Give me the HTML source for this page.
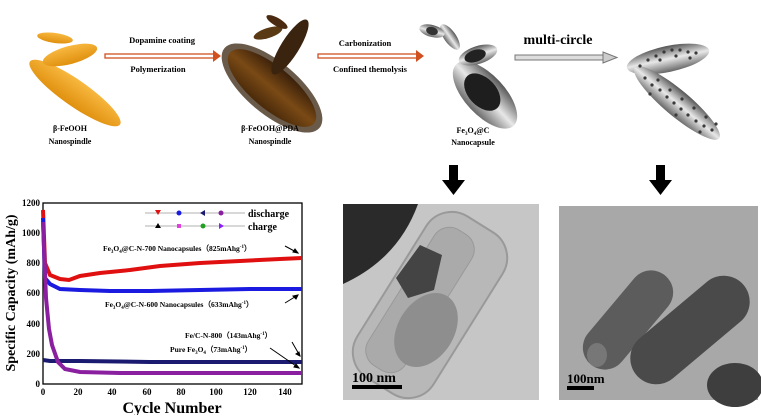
<!DOCTYPE html>
<html><head><meta charset="utf-8"><style>
body{margin:0;background:#fff;width:761px;height:415px;overflow:hidden}
text{font-family:"Liberation Serif",serif;font-weight:bold}
</style></head><body>
<svg width="761" height="415" viewBox="0 0 761 415" xmlns="http://www.w3.org/2000/svg">
<defs>
<linearGradient id="or" x1="0" y1="0" x2="0" y2="1"><stop offset="0" stop-color="#f8b840"/><stop offset="1" stop-color="#e0900e"/></linearGradient>
<linearGradient id="br" x1="0" y1="0" x2="0" y2="1"><stop offset="0" stop-color="#3a200a"/><stop offset="0.5" stop-color="#7a4a15"/><stop offset="1" stop-color="#4a2a0a"/></linearGradient>
<linearGradient id="gr" x1="0" y1="0" x2="0" y2="1"><stop offset="0" stop-color="#555"/><stop offset="0.5" stop-color="#e8e8e8"/><stop offset="1" stop-color="#666"/></linearGradient>
</defs>
<g transform="translate(75,93) rotate(35)"><ellipse rx="55" ry="13" fill="url(#or)"/></g>
<g transform="translate(70,55) rotate(-15)"><ellipse rx="28" ry="9" fill="url(#or)"/></g>
<g transform="translate(55,38) rotate(8)"><ellipse rx="18" ry="5" fill="url(#or)"/></g>
<text x="70" y="131" font-size="8" text-anchor="middle">β-FeOOH</text>
<text x="70" y="144" font-size="8" text-anchor="middle">Nanospindle</text>
<rect x="105" y="54" width="110" height="4" fill="#fff" stroke="#d05020" stroke-width="1.3"/>
<path d="M213,50 L221,56 L213,62Z" fill="#d05020"/>
<text x="162" y="43" font-size="8.5" text-anchor="middle">Dopamine coating</text>
<text x="158" y="72" font-size="8.5" text-anchor="middle">Polymerization</text>
<g transform="translate(272,88) rotate(40)"><ellipse rx="62" ry="26" fill="#6a5a4a"/><ellipse rx="55" ry="21" fill="url(#br)"/></g>
<g transform="translate(290,47) rotate(-58)"><ellipse rx="32" ry="9" fill="#3a2410"/></g>
<g transform="translate(268,33) rotate(-18)"><ellipse rx="15" ry="5" fill="#5a3a15"/></g>
<g transform="translate(277,22) rotate(30)"><ellipse rx="12" ry="4" fill="#4a2a10"/></g>
<text x="270" y="131" font-size="8" text-anchor="middle">β-FeOOH@PDA</text>
<text x="270" y="144" font-size="8" text-anchor="middle">Nanospindle</text>
<rect x="318" y="54" width="100" height="4" fill="#fff" stroke="#d05020" stroke-width="1.3"/>
<path d="M416,50 L424,56 L416,62Z" fill="#d05020"/>
<text x="365" y="46" font-size="8.5" text-anchor="middle">Carbonization</text>
<text x="370" y="72" font-size="8.5" text-anchor="middle">Confined themolysis</text>
<g transform="translate(485,95) rotate(47)"><ellipse rx="42" ry="20" fill="url(#gr)"/><ellipse cx="-4" rx="22" ry="14" fill="#1e1e1e"/></g>
<g transform="translate(478,55) rotate(-18)"><ellipse rx="20" ry="9" fill="url(#gr)"/><ellipse cx="-3" rx="11" ry="6" fill="#222"/></g>
<g transform="translate(450,37) rotate(55)"><ellipse rx="15" ry="6" fill="url(#gr)"/></g>
<g transform="translate(432,31) rotate(15)"><ellipse rx="13" ry="6" fill="url(#gr)"/><ellipse rx="6" ry="4" fill="#333"/></g>
<text x="473" y="133" font-size="8" text-anchor="middle">Fe<tspan font-size="5" dy="2">3</tspan><tspan dy="-2">O</tspan><tspan font-size="5" dy="2">4</tspan><tspan dy="-2">@C</tspan></text>
<text x="473" y="145" font-size="8" text-anchor="middle">Nanocapsule</text>
<text x="558" y="44" font-size="14" text-anchor="middle">multi-circle</text>
<rect x="515" y="55" width="90" height="5" fill="#ddd" stroke="#777" stroke-width="1"/>
<path d="M603,52 L617,57.5 L603,63Z" fill="#ccc" stroke="#777"/>
<g transform="translate(668,59) rotate(-12)"><ellipse rx="42" ry="13" fill="url(#gr)"/></g>
<g transform="translate(677,103) rotate(40)"><ellipse rx="55" ry="13" fill="url(#gr)"/></g>
<g fill="#3a3a3a">
<circle cx="640" cy="66" r="1.6"/><circle cx="648" cy="60" r="1.6"/><circle cx="656" cy="56" r="1.6"/><circle cx="664" cy="52" r="1.6"/><circle cx="672" cy="50" r="1.6"/><circle cx="680" cy="50" r="1.6"/><circle cx="688" cy="52" r="1.6"/><circle cx="696" cy="53" r="1.6"/><circle cx="660" cy="60" r="1.6"/><circle cx="676" cy="56" r="1.6"/><circle cx="690" cy="58" r="1.6"/>
<circle cx="645" cy="78" r="1.6"/><circle cx="652" cy="85" r="1.6"/><circle cx="660" cy="90" r="1.6"/><circle cx="667" cy="97" r="1.6"/><circle cx="674" cy="103" r="1.6"/><circle cx="681" cy="109" r="1.6"/><circle cx="688" cy="115" r="1.6"/><circle cx="696" cy="121" r="1.6"/><circle cx="704" cy="126" r="1.6"/><circle cx="712" cy="130" r="1.6"/><circle cx="658" cy="80" r="1.6"/><circle cx="670" cy="90" r="1.6"/><circle cx="682" cy="99" r="1.6"/><circle cx="694" cy="108" r="1.6"/><circle cx="706" cy="117" r="1.6"/><circle cx="716" cy="124" r="1.6"/><circle cx="650" cy="94" r="1.6"/><circle cx="676" cy="115" r="1.6"/><circle cx="700" cy="132" r="1.6"/>
</g>
<path d="M449,165 h9 v15 h7 l-11.5,15 l-11.5,-15 h7Z" fill="#000"/>
<path d="M656,165 h9 v15 h7 l-11.5,15 l-11.5,-15 h7Z" fill="#000"/>
<!-- TEM left -->
<rect x="343" y="204" width="196" height="196" fill="#c6c6c6"/>
<path d="M343,204 h75 q-20,55 -75,80Z" fill="#2a2a2a"/>
<g transform="translate(430,305) rotate(-58)"><rect x="-95" y="-45" width="190" height="90" rx="30" fill="#b8b8b8" stroke="#999" stroke-width="2"/></g>
<g transform="translate(420,300) rotate(-58)"><rect x="-80" y="-22" width="160" height="44" rx="18" fill="#aaa" stroke="#999"/></g>
<path d="M420,245 l22,10 l-8,35 l-26,8 l-12,-20Z" fill="#444"/>
<g transform="translate(426,330) rotate(-58)"><ellipse rx="40" ry="28" fill="#8e8e8e"/></g>
<rect x="352" y="385" width="50" height="4" fill="#000"/>
<text x="352" y="382" font-size="14">100 nm</text>
<!-- TEM right -->
<rect x="559" y="206" width="199" height="194" fill="#a8a8a8"/>
<g transform="translate(628,320) rotate(-50)"><rect x="-58" y="-22" width="116" height="44" rx="22" fill="#5c5c5c"/></g>
<g transform="translate(690,330) rotate(-40)"><rect x="-70" y="-26" width="140" height="52" rx="26" fill="#4a4a4a"/></g>
<ellipse cx="735" cy="385" rx="28" ry="22" fill="#3e3e3e"/>
<ellipse cx="597" cy="355" rx="10" ry="12" fill="#777"/>
<rect x="567" y="386" width="27" height="4" fill="#000"/>
<text x="567" y="383" font-size="13">100nm</text>
<!-- chart -->
<rect x="43" y="203" width="259" height="181" fill="none" stroke="#000" stroke-width="1.3"/>
<g font-size="9" text-anchor="end">
<text x="40" y="387">0</text><text x="40" y="357">200</text><text x="40" y="327">400</text><text x="40" y="296">600</text><text x="40" y="266">800</text><text x="40" y="236">1000</text><text x="40" y="206">1200</text>
</g>
<g font-size="9" text-anchor="middle">
<text x="43" y="395">0</text><text x="78" y="395">20</text><text x="112" y="395">40</text><text x="147" y="395">60</text><text x="181" y="395">80</text><text x="216" y="395">100</text><text x="250" y="395">120</text><text x="285" y="395">140</text>
</g>
<text x="172" y="413" font-size="16" text-anchor="middle">Cycle Number</text>
<text transform="translate(15,293) rotate(-90)" font-size="14" text-anchor="middle">Specific Capacity (mAh/g)</text>
<polyline fill="none" stroke="#e01010" stroke-width="4" points="43,210 45,263 50,275 60,279 69,280 80,276 100,273 130,270 160,266 200,263 240,261 280,259 302,258"/>
<polyline fill="none" stroke="#1a1ae0" stroke-width="4" points="43,218 45,278 50,284 60,289 80,290 110,291 150,291 200,290 250,289 302,289"/>
<polyline fill="none" stroke="#1a1a70" stroke-width="4" points="43,360 50,361 80,361 150,362 220,362 302,362"/>
<polyline fill="none" stroke="#8a20a0" stroke-width="4" points="43,222 46,298 49,329 52,345 58,362 65,369 80,372 120,373 200,373 302,373"/>
<g stroke-width="0.8">
<line x1="145" y1="213" x2="245" y2="213" stroke="#999"/>
<line x1="145" y1="226" x2="245" y2="226" stroke="#999"/>
</g>
<path d="M155,210 l6,0 l-3,5Z" fill="#e01010"/><circle cx="179" cy="213" r="2.5" fill="#1a1ae0"/><path d="M200,213 l5,-3 v6Z" fill="#1a1a70"/><circle cx="221" cy="213" r="2.5" fill="#8a20a0"/>
<path d="M155,228 l6,0 l-3,-5Z" fill="#000"/><rect x="177" y="224" width="4" height="4" fill="#e040e0"/><circle cx="203" cy="226" r="2.5" fill="#20a020"/><path d="M219,223 l5,3 l-5,3Z" fill="#8a20ff"/>
<text x="248" y="217" font-size="10">discharge</text>
<text x="248" y="230" font-size="10">charge</text>
<g font-size="7.5">
<text x="103" y="251">Fe<tspan font-size="5" dy="2">3</tspan><tspan dy="-2">O</tspan><tspan font-size="5" dy="2">4</tspan><tspan dy="-2">@C-N-700 Nanocapsules（825mAhg</tspan><tspan font-size="5" dy="-3">-1</tspan><tspan dy="3">）</tspan></text>
<text x="105" y="307">Fe<tspan font-size="5" dy="2">3</tspan><tspan dy="-2">O</tspan><tspan font-size="5" dy="2">4</tspan><tspan dy="-2">@C-N-600 Nanocapsules（633mAhg</tspan><tspan font-size="5" dy="-3">-1</tspan><tspan dy="3">）</tspan></text>
<text x="185" y="338" font-family="Liberation Sans">Fe/C-N-800（143mAhg<tspan font-size="5" dy="-3">-1</tspan><tspan dy="3">）</tspan></text>
<text x="170" y="352">Pure Fe<tspan font-size="5" dy="2">3</tspan><tspan dy="-2">O</tspan><tspan font-size="5" dy="2">4</tspan><tspan dy="-2">（73mAhg</tspan><tspan font-size="5" dy="-3">-1</tspan><tspan dy="3">）</tspan></text>
</g>
<g stroke="#000" stroke-width="1" fill="#000">
<line x1="285" y1="246" x2="298" y2="253"/><path d="M298,253 l-5,-1 l2,-3Z"/>
<line x1="285" y1="303" x2="298" y2="295"/><path d="M298,295 l-2,4 l-3,-3Z"/>
<line x1="292" y1="342" x2="300" y2="356"/><path d="M300,356 l-4,-2 l3,-2Z"/>
<line x1="270" y1="348" x2="299" y2="368"/><path d="M299,368 l-5,-1 l2,-3Z"/>
</g>
</svg>
</body></html>
